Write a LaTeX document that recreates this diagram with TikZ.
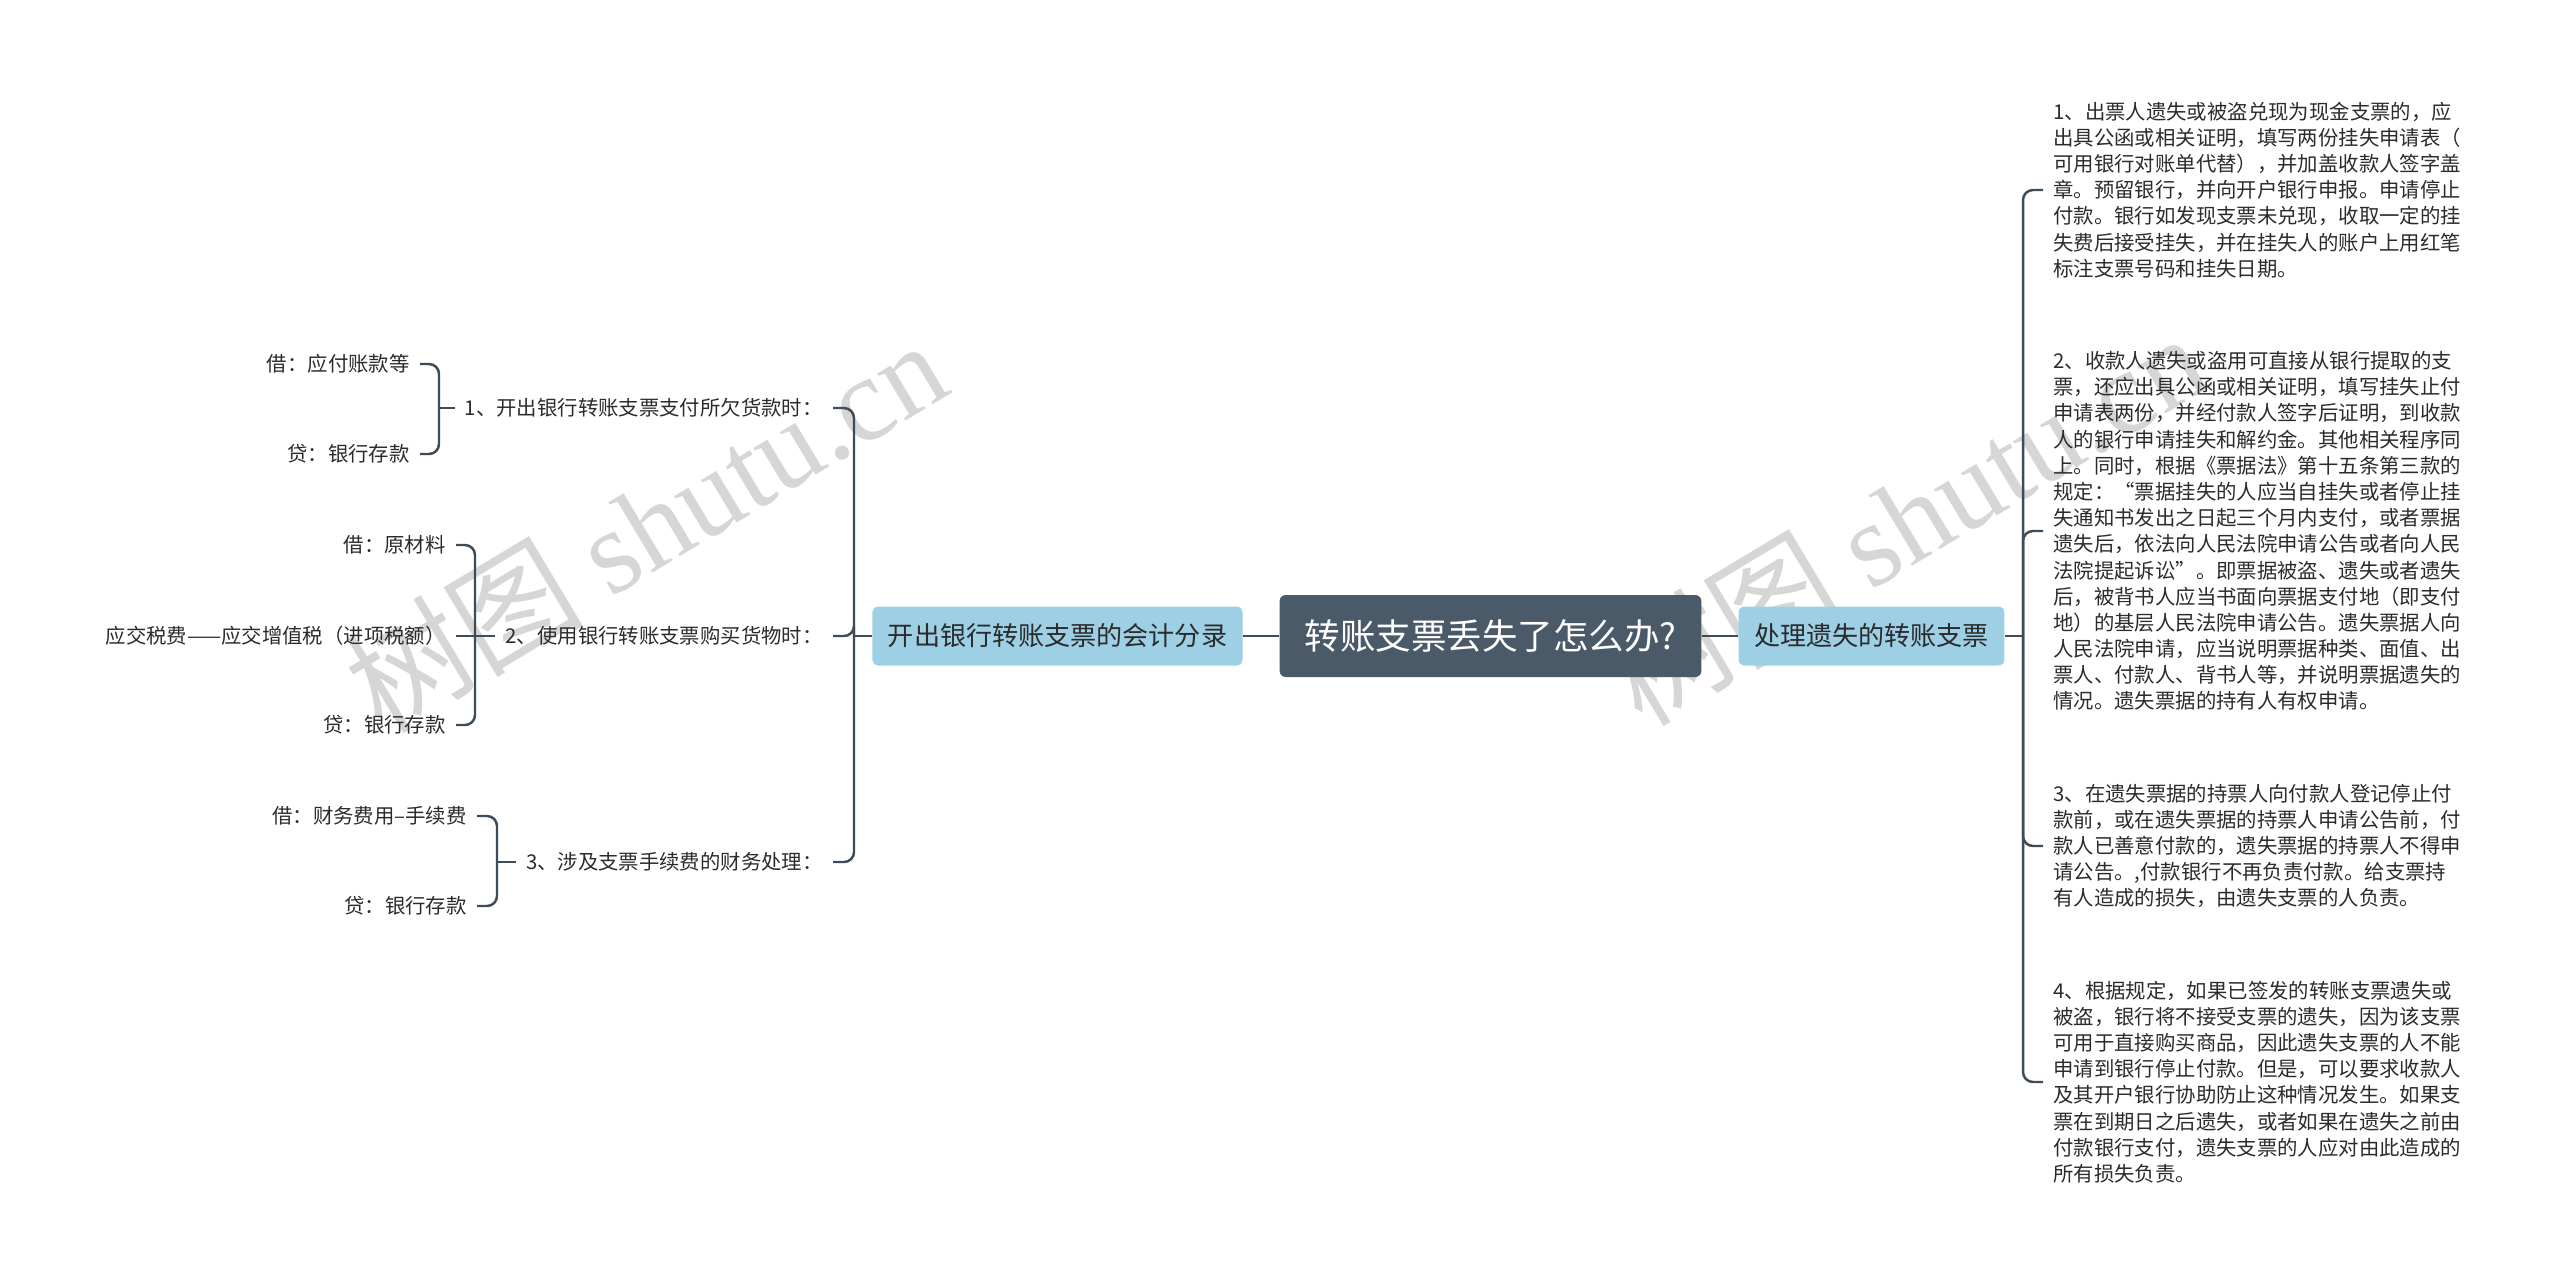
\documentclass[tikz,border=0pt]{standalone}
\usepackage{fontspec}
\setmainfont{Noto Sans CJK SC}
\newfontfamily\wmserif{Liberation Serif}
\definecolor{rootfill}{HTML}{4B5A68}
\definecolor{topicfill}{HTML}{9DCFE5}
\definecolor{linecol}{HTML}{3E4B58}
\definecolor{textcol}{HTML}{2B2B2B}
\definecolor{wmgray}{HTML}{D6D6D6}

\tikzset{
  root/.style={fill=rootfill, text=white, rounded corners=0.12cm,
    font=\fontsize{20.2pt}{24pt}\selectfont, inner xsep=0.5cm, minimum height=1.64cm},
  topic/.style={fill=topicfill, text=textcol, rounded corners=0.12cm,
    font=\fontsize{14.85pt}{18pt}\selectfont, inner xsep=0.31cm, minimum height=1.18cm},
  sub/.style={text=textcol, font=\fontsize{11.6pt}{14.9pt}\selectfont, inner xsep=0.2cm, inner ysep=0.1cm},
  note/.style={sub, align=left, anchor=west},
  branch/.style={draw=linecol, line width=1.4pt, rounded corners=0.2cm},
  wmark/.style={text=wmgray, font=\fontsize{68pt}{70pt}\selectfont, rotate=31},
}

\begin{document}
\begin{tikzpicture}[x=0.02cm, y=-0.02cm]
    \useasboundingbox (0,0) rectangle (2560,1285);

    % ===== WATERMARK =====
    \node[wmark] (wm1) at (645,525) {树图 {\wmserif shutu.cn}};
    \node[wmark] (wm2) at (1905,518) {树图 {\wmserif shutu.cn}};

    % ===== CENTRO =====
    \node[root] (root) at (1490.5,636) {转账支票丢失了怎么办?};
    \node[topic] (acct) at (1057.5,636) {开出银行转账支票的会计分录};
    \node[topic] (lost) at (1871.5,636) {处理遗失的转账支票};
    \draw[branch] (root.west) -- (acct.east);
    \draw[branch] (root.east) -- (lost.west);

    % ===== SINISTRA: scritture =====
    \def\xItem{833}
    \node[sub, anchor=east] (i1) at (\xItem,408) {1、开出银行转账支票支付所欠货款时：};
    \node[sub, anchor=east] (i2) at (\xItem,636) {2、使用银行转账支票购买货物时：};
    \node[sub, anchor=east] (i3) at (\xItem,862) {3、涉及支票手续费的财务处理：};

    \coordinate (ltrunk) at (854,636);
    \draw[branch] (acct.west) -- (ltrunk);
    \foreach \n in {i1,i2,i3} {
        \draw[branch] (ltrunk) |- (\n.east);
    }

    % voci di 1
    \node[sub, anchor=east] (i1a) at (420,364) {借：应付账款等};
    \node[sub, anchor=east] (i1b) at (420,454) {贷：银行存款};
    \coordinate (j1) at (439,408);
    \draw[branch] (i1.west) -- (j1);
    \draw[branch] (j1) |- (i1a.east);
    \draw[branch] (j1) |- (i1b.east);

    % voci di 2
    \node[sub, anchor=east] (i2a) at (456,545) {借：原材料};
    \node[sub, anchor=east] (i2b) at (456,636) {应交税费——应交增值税（进项税额）};
    \node[sub, anchor=east] (i2c) at (456,725) {贷：银行存款};
    \coordinate (j2) at (475,636);
    \draw[branch] (i2.west) -- (i2b.east);
    \draw[branch] (j2) |- (i2a.east);
    \draw[branch] (j2) |- (i2c.east);

    % voci di 3
    \node[sub, anchor=east] (i3a) at (477,816) {借：财务费用–手续费};
    \node[sub, anchor=east] (i3b) at (477,906) {贷：银行存款};
    \coordinate (j3) at (497,862);
    \draw[branch] (i3.west) -- (j3);
    \draw[branch] (j3) |- (i3a.east);
    \draw[branch] (j3) |- (i3b.east);

    % ===== DESTRA: note =====
    \def\xNote{2043}
    \node[note] (n1) at (\xNote,190) {1、出票人遗失或被盗兑现为现金支票的，应\\
        出具公函或相关证明，填写两份挂失申请表（\\
        可用银行对账单代替），并加盖收款人签字盖\\
        章。预留银行，并向开户银行申报。申请停止\\
        付款。银行如发现支票未兑现，收取一定的挂\\
        失费后接受挂失，并在挂失人的账户上用红笔\\
        标注支票号码和挂失日期。};
    \node[note] (n2) at (\xNote,531) {2、收款人遗失或盗用可直接从银行提取的支\\
        票，还应出具公函或相关证明，填写挂失止付\\
        申请表两份，并经付款人签字后证明，到收款\\
        人的银行申请挂失和解约金。其他相关程序同\\
        上。同时，根据《票据法》第十五条第三款的\\
        规定：“票据挂失的人应当自挂失或者停止挂\\
        失通知书发出之日起三个月内支付，或者票据\\
        遗失后，依法向人民法院申请公告或者向人民\\
        法院提起诉讼”。即票据被盗、遗失或者遗失\\
        后，被背书人应当书面向票据支付地（即支付\\
        地）的基层人民法院申请公告。遗失票据人向\\
        人民法院申请，应当说明票据种类、面值、出\\
        票人、付款人、背书人等，并说明票据遗失的\\
        情况。遗失票据的持有人有权申请。};
    \node[note] (n3) at (\xNote,846) {3、在遗失票据的持票人向付款人登记停止付\\
        款前，或在遗失票据的持票人申请公告前，付\\
        款人已善意付款的，遗失票据的持票人不得申\\
        请公告。,付款银行不再负责付款。给支票持\\
        有人造成的损失，由遗失支票的人负责。};
    \node[note] (n4) at (\xNote,1082) {4、根据规定，如果已签发的转账支票遗失或\\
        被盗，银行将不接受支票的遗失，因为该支票\\
        可用于直接购买商品，因此遗失支票的人不能\\
        申请到银行停止付款。但是，可以要求收款人\\
        及其开户银行协助防止这种情况发生。如果支\\
        票在到期日之后遗失，或者如果在遗失之前由\\
        付款银行支付，遗失支票的人应对由此造成的\\
        所有损失负责。};

    \coordinate (rtrunk) at (2023,636);
    \draw[branch] (lost.east) -- (rtrunk);
    \foreach \n in {n1,n2,n3,n4} {
        \draw[branch] (rtrunk) |- (\n.west);
    }
\end{tikzpicture}
\end{document}
